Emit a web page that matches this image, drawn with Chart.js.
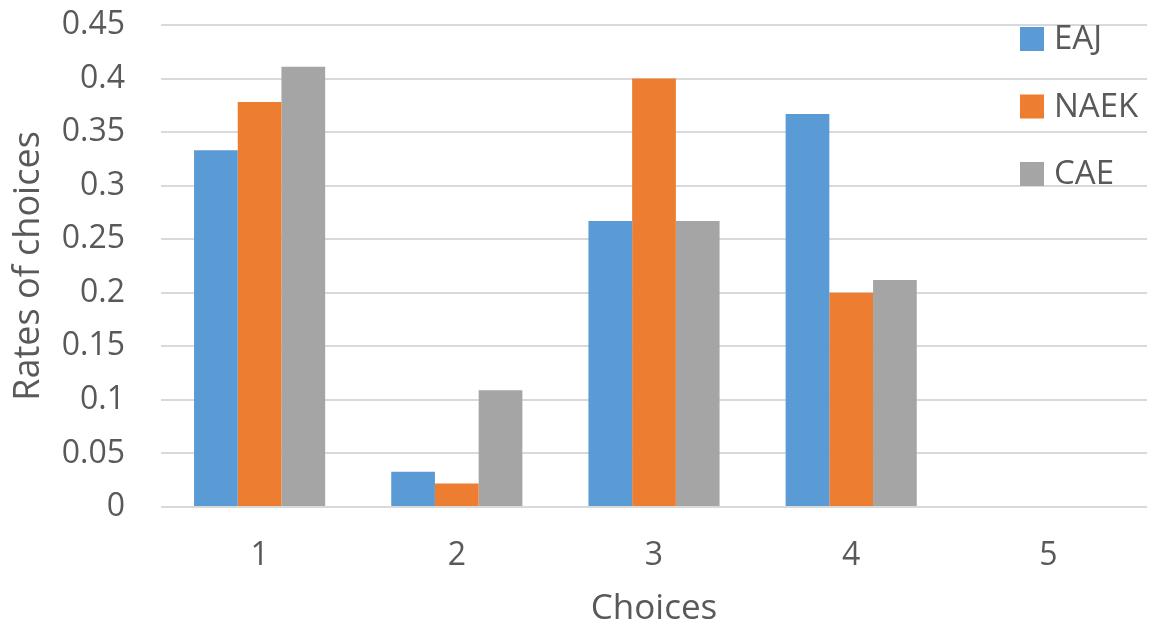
<!DOCTYPE html>
<html>
<head>
<meta charset="utf-8">
<script src="https://cdn.jsdelivr.net/npm/chart.js@4.4.0/dist/chart.umd.min.js"></script>
<style>
  html, body { margin: 0; padding: 0; background: #ffffff; }
  #wrap { width: 1149px; height: 627px; position: relative; }
</style>
</head>
<body>
<div id="wrap"><canvas id="c" width="1149" height="627"></canvas></div>
<script>
const categories = ['1', '2', '3', '4', '5'];
const seriesNames = ['EAJ', 'NAEK', 'CAE'];
const eajValues  = [0.333, 0.033, 0.267, 0.367, 0];
const naekValues = [0.378, 0.022, 0.400, 0.200, 0];
const caeValues  = [0.411, 0.109, 0.267, 0.212, 0];
const seriesColors = ['#5B9BD5', '#ED7D31', '#A5A5A5'];
const yTicks = [0, 0.05, 0.1, 0.15, 0.2, 0.25, 0.3, 0.35, 0.4, 0.45];

const FONT = "'Open Sans', 'Liberation Sans', sans-serif";
const TEXT = '#595959';

const legendPlugin = {
  id: 'sideLegend',
  afterDraw(chart) {
    const ctx = chart.ctx;
    ctx.save();
    ctx.font = '33px ' + FONT;
    ctx.textBaseline = 'middle';
    ctx.textAlign = 'left';
    chart.data.datasets.forEach((ds, i) => {
      const cy = 39 + i * 67.5;
      ctx.fillStyle = ds.backgroundColor;
      ctx.fillRect(1020, cy - 12, 24, 24);
      ctx.fillStyle = TEXT;
      ctx.fillText(ds.label, 1054, cy + 1);
    });
    ctx.restore();
  }
};

const datasets = [eajValues, naekValues, caeValues].map((vals, i) => ({
  label: seriesNames[i],
  data: vals,
  backgroundColor: seriesColors[i],
  borderWidth: 0,
  categoryPercentage: 0.665,
  barPercentage: 1.0
}));

new Chart(document.getElementById('c'), {
  type: 'bar',
  data: { labels: categories, datasets },
  plugins: [legendPlugin],
  options: {
    responsive: false,
    animation: false,
    layout: { padding: { left: 0, right: 2, top: 25, bottom: 0 } },
    plugins: { legend: { display: false }, tooltip: { enabled: false } },
    scales: {
      x: {
        grid: { display: false, drawTicks: false },
        border: { display: false },
        ticks: { color: TEXT, font: { family: FONT, size: 32 }, padding: 30 },
        title: { display: true, text: 'Choices', color: TEXT,
                 font: { family: FONT, size: 35, lineHeight: 1.0 }, padding: 0 },
        afterFit(s) { s.height = 120; s.paddingLeft = 0; s.paddingRight = 0; }
      },
      y: {
        min: 0, max: 0.45,
        afterBuildTicks(s) { s.ticks = yTicks.map(v => ({ value: v })); },
        grid: { color: '#D9D9D9', lineWidth: 2, drawTicks: false },
        border: { display: false },
        ticks: { color: TEXT, font: { family: FONT, size: 32 }, padding: 36,
                 callback: v => String(v) },
        title: { display: true, text: 'Rates of choices', color: TEXT,
                 font: { family: FONT, size: 36, lineHeight: 1.2 }, padding: { top: 7, bottom: 0 } },
        afterFit(s) { s.width = 161; s.paddingTop = 0; s.paddingBottom = 0; }
      }
    }
  }
});
</script>
</body>
</html>
